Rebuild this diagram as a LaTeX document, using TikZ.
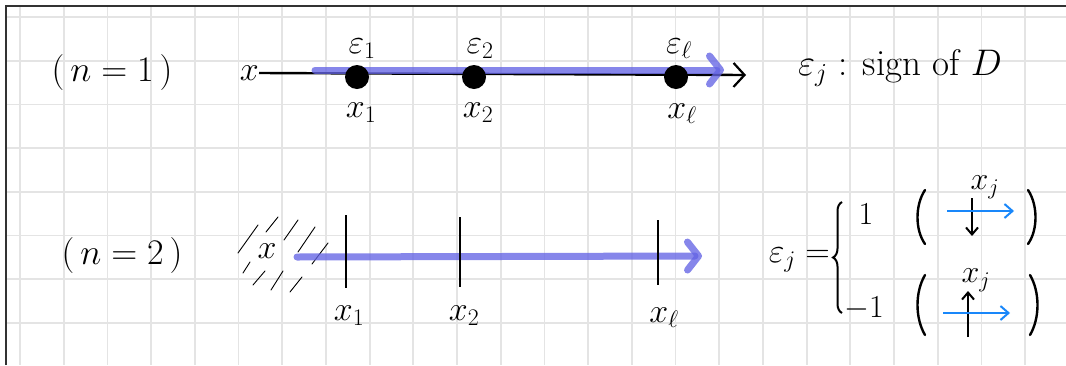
\RequirePackage{fix-cm}
\documentclass[tikz,border=0pt]{standalone}
\usetikzlibrary{arrows.meta,decorations.pathreplacing}
\definecolor{gridgray}{RGB}{228,228,228}
\definecolor{framegray}{RGB}{50,50,50}
\definecolor{pathblue}{RGB}{100,100,228}
\definecolor{fieldblue}{RGB}{25,135,250}
\tikzset{
  gridline/.style={draw=gridgray, line width=1.8pt},
  frameline/.style={draw=framegray, line width=1.6pt},
  txt/.style={inner sep=0pt, font=\fontsize{36}{38}\selectfont},
  lbl/.style={inner sep=0pt, font=\fontsize{34}{36}\selectfont},
  small/.style={inner sep=0pt, font=\fontsize{32}{34}\selectfont},
  pt/.style={circle, fill=black, minimum size=24pt, inner sep=0pt},
  axis/.style={line width=2.4pt, -{Straight Barb[length=11pt,width=24pt,line width=2.2pt]}},
  flow/.style={draw=pathblue, opacity=0.78, line width=7pt, line cap=round,
    -{Straight Barb[length=11pt,width=28pt,line width=7pt,round]}},
  tick/.style={line width=2.4pt},
  hatch/.style={line width=0.9pt, line cap=round},
  field/.style={draw=fieldblue, line width=2.2pt, -{Straight Barb[length=8pt,width=14pt,line width=2pt]}},
  spin/.style={line width=2.2pt, -{Straight Barb[length=7pt,width=12pt,line width=2pt]}},
  paren/.style={line width=2.4pt, line cap=round}
}
\begin{document}
\begin{tikzpicture}[x=1pt, y=-1pt]
\useasboundingbox (0,0) rectangle (1066,365);
% squared paper
\foreach \i in {0,...,24} \draw[gridline] ({20+43.7*\i},6) -- ({20+43.7*\i},365);
\foreach \j in {0,...,8} \draw[gridline] (6,{17+43.7*\j}) -- (1066,{17+43.7*\j});
\draw[frameline] (6,365) -- (6,6) -- (1066,6);

% ---------- n = 1 ----------
\node[txt] (case1) at (112,72) {$(\,n = 1\,)$};
\node[lbl, anchor=east] (x0) at (259,73) {$x$};
\coordinate (axend) at (746,75);
\draw[axis] (x0.east) -- (axend);
\coordinate (fs) at (315,70);
\coordinate (fe) at (724,70);
\draw[flow] (fs) -- (fe);
\node[pt] (p1) at (357,77) {};
\node[pt] (p2) at (474,77) {};
\node[pt] (p3) at (676,77) {};
\node[lbl, anchor=south] (e1) at (362,59) {$\varepsilon_1$};
\node[lbl, anchor=south] (e2) at (480,59) {$\varepsilon_2$};
\node[lbl, anchor=south] (e3) at (679,59) {$\varepsilon_\ell$};
\node[lbl] (q1) at (361,113) {$x_1$};
\node[lbl] (q2) at (478,113) {$x_2$};
\node[lbl] (q3) at (682,114) {$x_\ell$};
\node[lbl, anchor=west, font=\fontsize{37}{39}\selectfont] (signD) at (798,68) {$\varepsilon_j$ : sign of $D$};

% ---------- n = 2 ----------
\node[txt] (case2) at (122,255) {$(\,n = 2\,)$};
\node[lbl] (xx) at (267,251) {$x$};
\foreach \a/\b/\c/\d in {238/253/258/225, 266/232/278/217, 284/240/298/220,
  298/252/315/227, 312/264/328/243, 243/273/250/262, 253/285/265/271,
  271/290/283/271, 290/292/302/277}
  \draw[hatch] (\a,\b) -- (\c,\d);
\coordinate (gs) at (297,257);
\coordinate (ge) at (702,256);
\draw[flow] (gs) -- (ge);
\coordinate (t1a) at (346,215); \coordinate (t1b) at (346,288);
\coordinate (t2a) at (460,217); \coordinate (t2b) at (460,287);
\coordinate (t3a) at (658,220); \coordinate (t3b) at (658,285);
\draw[tick] (t1a) -- (t1b);
\draw[tick] (t2a) -- (t2b);
\draw[tick] (t3a) -- (t3b);
\node[lbl] (r1) at (349,316) {$x_1$};
\node[lbl] (r2) at (464,316) {$x_2$};
\node[lbl] (r3) at (664,318) {$x_\ell$};

\node[lbl, anchor=east] (eq) at (830,260) {$\varepsilon_j =$};
\coordinate (bt) at (842,202);
\coordinate (bb) at (842,313);
\draw[line width=2pt, decorate, decoration={brace, amplitude=9pt}] (bb) -- (bt);
\node[small] (one) at (866,214) {$1$};
\node[small] (mone) at (864,309) {$-1$};

% spin up / down pictures
\draw[paren] (925,190) .. controls (915,205) and (915,230) .. (925,244);
\draw[paren] (1028,190) .. controls (1038,205) and (1038,230) .. (1028,244);
\draw[paren] (925,275) .. controls (915,292) and (915,318) .. (925,335);
\draw[paren] (1030,275) .. controls (1040,292) and (1040,318) .. (1030,335);
\node[small] (xj1) at (985,187) {$x_j$};
\coordinate (d1a) at (972,198); \coordinate (d1b) at (972,236);
\draw[spin] (d1a) -- (d1b);
\coordinate (h1a) at (947,211); \coordinate (h1b) at (1014,211);
\draw[field] (h1a) -- (h1b);
\node[small] (xj2) at (976,280) {$x_j$};
\coordinate (u2a) at (968,337); \coordinate (u2b) at (968,291);
\draw[spin] (u2a) -- (u2b);
\coordinate (h2a) at (943,313); \coordinate (h2b) at (1010,313);
\draw[field] (h2a) -- (h2b);
\end{tikzpicture}
\end{document}
